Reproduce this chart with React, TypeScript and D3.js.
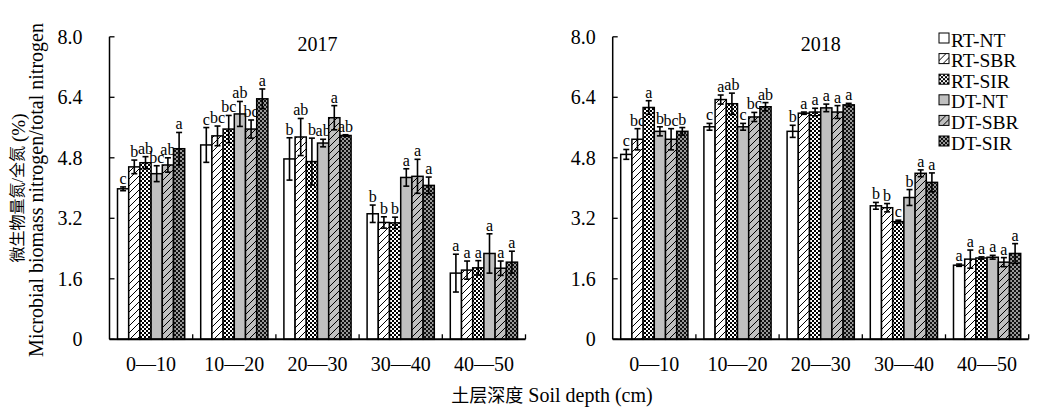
import React, { useEffect } from "react";
import * as d3 from "d3";

// depth classes and treatments
const depths = ["0—10", "10—20", "20—30", "30—40", "40—50"];
const treatments = ["RT-NT", "RT-SBR", "RT-SIR", "DT-NT", "DT-SBR", "DT-SIR"];
const yTicks = [0, 1.6, 3.2, 4.8, 6.4, 8.0];

// 2017 means, errors, letters (per treatment, over depths)
const mean2017 = [
  [3.98, 5.14, 4.77, 3.32, 1.75],
  [4.56, 5.38, 5.35, 3.09, 1.83],
  [4.67, 5.56, 4.7, 3.08, 1.89],
  [4.38, 5.96, 5.19, 4.28, 2.27],
  [4.61, 5.56, 5.86, 4.31, 1.88],
  [5.04, 6.36, 5.39, 4.07, 2.04],
];
const err2017 = [
  [0.05, 0.46, 0.56, 0.23, 0.5],
  [0.18, 0.26, 0.49, 0.15, 0.24],
  [0.16, 0.36, 0.62, 0.15, 0.19],
  [0.21, 0.33, 0.1, 0.23, 0.52],
  [0.19, 0.24, 0.32, 0.45, 0.19],
  [0.43, 0.26, 0.02, 0.22, 0.29],
];
const letters2017 = [
  ["c", "c", "b", "b", "a"],
  ["b", "bc", "ab", "b", "a"],
  ["ab", "bc", "b", "b", "a"],
  ["bc", "ab", "ab", "a", "a"],
  ["ab", "bc", "a", "a", "a"],
  ["a", "a", "ab", "a", "a"],
];

// 2018
const mean2018 = [
  [4.89, 5.62, 5.5, 3.53, 1.96],
  [5.29, 6.34, 5.98, 3.48, 2.12],
  [6.13, 6.23, 6.01, 3.11, 2.15],
  [5.5, 5.62, 6.12, 3.75, 2.17],
  [5.29, 5.88, 6.01, 4.39, 2.04],
  [5.5, 6.15, 6.2, 4.15, 2.27],
];
const err2018 = [
  [0.13, 0.09, 0.16, 0.09, 0.03],
  [0.28, 0.12, 0.03, 0.11, 0.24],
  [0.18, 0.28, 0.1, 0.04, 0.03],
  [0.12, 0.09, 0.1, 0.21, 0.05],
  [0.28, 0.12, 0.17, 0.09, 0.12],
  [0.1, 0.11, 0.04, 0.25, 0.26],
];
const letters2018 = [
  ["c", "c", "b", "b", "a"],
  ["bc", "a", "a", "b", "a"],
  ["a", "ab", "a", "c", "a"],
  ["b", "c", "a", "b", "a"],
  ["bc", "bc", "a", "a", "a"],
  ["b", "ab", "a", "a", "a"],
];

const fills = [
  "#ffffff",
  "url(#hatchW)",
  "url(#checkW)",
  "#c0c0c0",
  "url(#hatchG)",
  "url(#checkD)",
];

const serif = "'Times New Roman', 'Liberation Serif', 'Noto Sans CJK SC', serif";

const y = d3.scaleLinear().domain([0, 8]).range([339.3, 36.8]);

function Panel({ x0, title, means, errs, letters, labelGap }) {
  const w = 416;
  const x = d3.scaleBand().domain(depths).range([x0, x0 + w]);
  const xi = d3
    .scaleBand()
    .domain(treatments)
    .range([8, x.bandwidth() - 8]);
  const y0 = y(0);

  return (
    <g>
      {/* bars */}
      {treatments.map((t, ti) =>
        depths.map((d, di) => {
          const v = means[ti][di];
          const e = errs[ti][di];
          const bx = x(d) + xi(t);
          const cx = bx + xi.bandwidth() / 2;
          return (
            <g key={t + d}>
              <rect
                x={bx}
                y={y(v)}
                width={xi.bandwidth()}
                height={y0 - y(v)}
                fill={fills[ti]}
                stroke="#000"
                strokeWidth={1.5}
              />
              <line x1={cx} x2={cx} y1={y(v - e)} y2={y(v + e)} stroke="#000" strokeWidth={1.6} />
              <line x1={cx - 3} x2={cx + 3} y1={y(v - e)} y2={y(v - e)} stroke="#000" strokeWidth={1.6} />
              <line x1={cx - 3} x2={cx + 3} y1={y(v + e)} y2={y(v + e)} stroke="#000" strokeWidth={1.6} />
              <text
                x={cx}
                y={y(v + e) - 3}
                textAnchor="middle"
                fontSize={16}
                fontFamily={serif}
              >
                {letters[ti][di]}
              </text>
            </g>
          );
        })
      )}

      {/* y axis */}
      <line x1={x0} x2={x0} y1={y(8)} y2={y0} stroke="#000" strokeWidth={1.5} />
      {yTicks.map((t) => (
        <g key={t}>
          <line x1={x0} x2={x0 + 5} y1={y(t)} y2={y(t)} stroke="#000" strokeWidth={1.3} />
          <text
            x={x0 - labelGap}
            y={y(t)}
            textAnchor="end"
            dominantBaseline="central"
            fontSize={20}
            fontFamily={serif}
          >
            {t === 0 ? "0" : t.toFixed(1)}
          </text>
        </g>
      ))}

      {/* x axis */}
      <line x1={x0} x2={x0 + w} y1={y0} y2={y0} stroke="#000" strokeWidth={2} />
      {depths.map((d) => (
        <g key={d}>
          <line
            x1={x(d) + x.bandwidth()}
            x2={x(d) + x.bandwidth()}
            y1={y0}
            y2={y0 - 5}
            stroke="#000"
            strokeWidth={1.3}
          />
          <text x={x(d) + x.bandwidth() / 2} y={371} textAnchor="middle" fontSize={20} fontFamily={serif}>
            {d}
          </text>
        </g>
      ))}

      <text x={x0 + w / 2} y={51} textAnchor="middle" fontSize={20} fontFamily={serif}>
        {title}
      </text>
    </g>
  );
}

export default function App() {
  useEffect(() => {
    document.body.style.margin = "0";
  }, []);

  return (
    <svg width={1044} height={409} style={{ display: "block", background: "#fff" }}>
      <defs>
        <pattern id="hatchW" width={7} height={7} patternUnits="userSpaceOnUse">
          <rect width={7} height={7} fill="#fff" />
          <path d="M-1,8 L8,-1 M-1,1 L1,-1 M6,8 L8,6" stroke="#000" strokeWidth={1} />
        </pattern>
        <pattern id="hatchG" width={7} height={7} patternUnits="userSpaceOnUse">
          <rect width={7} height={7} fill="#c0c0c0" />
          <path d="M-1,8 L8,-1 M-1,1 L1,-1 M6,8 L8,6" stroke="#000" strokeWidth={1} />
        </pattern>
        <pattern id="checkW" width={4} height={4} patternUnits="userSpaceOnUse">
          <rect width={4} height={4} fill="#fff" />
          <rect width={2} height={2} fill="#000" />
          <rect x={2} y={2} width={2} height={2} fill="#000" />
        </pattern>
        <pattern id="checkD" width={4} height={4} patternUnits="userSpaceOnUse">
          <rect width={4} height={4} fill="#999" />
          <rect width={2} height={2} fill="#111" />
          <rect x={2} y={2} width={2} height={2} fill="#111" />
        </pattern>
      </defs>

      <Panel x0={109.5} title="2017" means={mean2017} errs={err2017} letters={letters2017} labelGap={27} />
      <Panel x0={612.7} title="2018" means={mean2018} errs={err2018} letters={letters2018} labelGap={17} />

      {/* legend */}
      {treatments.map((t, i) => (
        <g key={t} transform={`translate(939,${33 + i * 20.6})`}>
          <rect width={10} height={10} fill={fills[i]} stroke="#000" strokeWidth={1} />
          <text x={12} y={13.5} fontSize={19.5} fontFamily={serif}>
            {t}
          </text>
        </g>
      ))}

      {/* axis titles */}
      <g transform="translate(17.5,188) rotate(-90)">
        <text textAnchor="middle" dominantBaseline="central" fontSize={16} fontFamily={serif}>
          微生物量氮/全氮 <tspan fontSize={19}>(%)</tspan>
        </text>
      </g>
      <g transform="translate(35.5,190) rotate(-90)">
        <text textAnchor="middle" dominantBaseline="central" fontSize={20} fontFamily={serif}>
          Microbial biomass nitrogen/total nitrogen
        </text>
      </g>
      <text x={552} y={402} textAnchor="middle" fontSize={20} fontFamily={serif}>
        <tspan fontSize={18}>土层深度</tspan> Soil depth (cm)
      </text>
    </svg>
  );
}
